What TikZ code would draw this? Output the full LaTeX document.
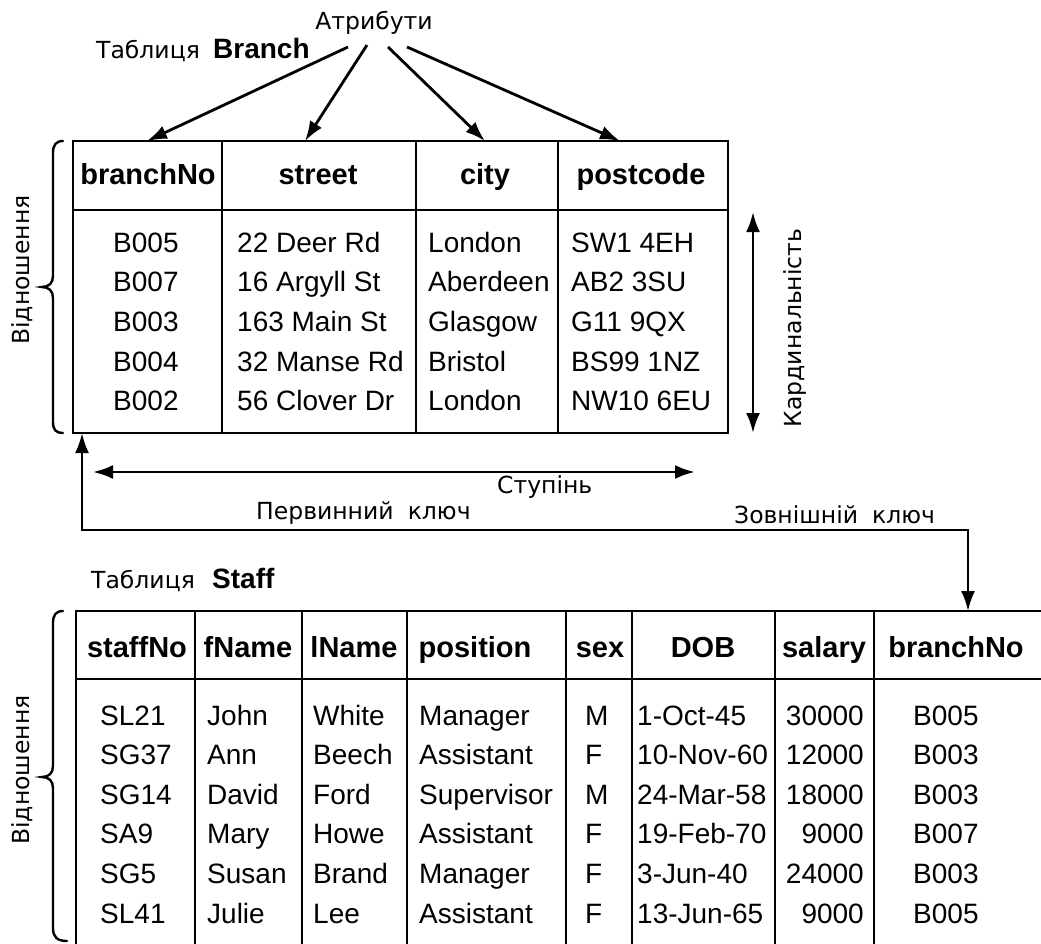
\documentclass[tikz,border=0pt]{standalone}
\usepackage{fontspec}
\setmainfont{Liberation Sans}
\newfontfamily\lbl{DejaVu Sans}
\usetikzlibrary{arrows.meta}

\begin{document}
\begin{tikzpicture}[x=1pt,y=-1pt,
  grid/.style={line width=2.8pt, line cap=rect},
  arr/.style={line width=2.8pt, -{Latex[length=20pt,width=14pt]}},
  dbl/.style={line width=2.8pt, {Latex[length=20pt,width=14pt]}-{Latex[length=20pt,width=14pt]}},
  hd/.style={inner sep=0pt, anchor=base, font=\fontsize{29}{34}\selectfont\bfseries},
  cell/.style={inner sep=0pt, anchor=base west, font=\fontsize{28}{33}\selectfont},
  cellr/.style={cell, anchor=base east},
  lab/.style={inner sep=0pt, anchor=base west, font=\lbl\fontsize{23.5}{28}\selectfont},
  lbold/.style={inner sep=0pt, anchor=base west, font=\fontsize{28}{32}\selectfont\bfseries},
  vlab/.style={inner sep=0pt, rotate=90, font=\lbl\fontsize{23.5}{28}\selectfont},
  brace/.style={line width=2.4pt, line cap=round},
]
\useasboundingbox (0,0) rectangle (1041,944);

% ---------- Branch table ----------
\draw[grid] (73,141) rectangle (728,433);
\draw[grid] (73,210) -- (728,210);
\foreach \x in {222,416,558} \draw[grid] (\x,141) -- (\x,433);

\node[hd] (bh1) at (148,185) {branchNo};
\node[hd] (bh2) at (318,185) {street};
\node[hd] (bh3) at (485,185) {city};
\node[hd] (bh4) at (641,185) {postcode};

\foreach \a/\b/\c/\d [count=\i from 0] in {
  B005/22 Deer Rd/London/SW1 4EH,
  B007/16 Argyll St/Aberdeen/AB2 3SU,
  B003/163 Main St/Glasgow/G11 9QX,
  B004/32 Manse Rd/Bristol/BS99 1NZ,
  B002/56 Clover Dr/London/NW10 6EU}{
  \node[cell] (ba\i) at (113,252+39.7*\i) {\a};
  \node[cell] (bb\i) at (237,252+39.7*\i) {\b};
  \node[cell] (bc\i) at (428,252+39.7*\i) {\c};
  \node[cell] (bd\i) at (571,252+39.7*\i) {\d};
}

% ---------- titles and attribute arrows ----------
\node[lab] (tbr) at (96,59) {Таблиця};
\node[lbold] (tbrn) at (213,59) {Branch};
\node[lab, anchor=base] (attr) at (374,30) {Атрибути};

\coordinate (s1) at (348,47);
\coordinate (s2) at (367,45);
\coordinate (s3) at (388,47);
\coordinate (s4) at (407,47);
\coordinate (t1) at (147,141);
\coordinate (t2) at (305,141);
\coordinate (t3) at (485,141);
\coordinate (t4) at (620,141);
\foreach \k in {1,2,3,4} \draw[arr] (s\k) -- (t\k);

% ---------- cardinality and degree ----------
\coordinate (ctop) at (753,212);
\coordinate (cbot) at (753,433);
\draw[dbl] (ctop) -- (cbot);
\node[vlab] (card) at (795,328) {Кардинальність};

\coordinate (dl) at (93,472);
\coordinate (dr) at (695,472);
\draw[dbl] (dl) -- (dr);
\node[lab] (deg) at (497,493) {Ступінь};

% ---------- primary / foreign key link ----------
\coordinate (pk) at (82,433);
\coordinate (pkc) at (82,530);
\coordinate (fkc) at (968,530);
\coordinate (fk) at (968,611);
\draw[dbl, line width=2.5pt] (pk) -- (pkc) -- (fkc) -- (fk);
\node[lab] (pkl) at (256,519) {Первинний\hspace{0.6em}ключ};
\node[lab] (fkl) at (734,523) {Зовнішній\hspace{0.6em}ключ};

% ---------- relation braces ----------
\draw[brace] (63,141) .. controls (56,141) and (53,145) .. (53,153) -- (53,276)
  .. controls (53,283) and (49,287) .. (42,287)
  .. controls (49,287) and (53,291) .. (53,298) -- (53,422)
  .. controls (53,430) and (56,433) .. (63,433);
\node[vlab] (rel1) at (22,270) {Відношення};

\draw[brace] (63,611) .. controls (56,611) and (53,615) .. (53,623) -- (53,766)
  .. controls (53,773) and (49,777) .. (42,777)
  .. controls (49,777) and (53,781) .. (53,788) -- (53,928)
  .. controls (53,937) and (57,941) .. (67,941);
\node[vlab] (rel2) at (22,770) {Відношення};

% ---------- Staff table ----------
\node[lab] (tst) at (91,588) {Таблиця};
\node[lbold] (tstn) at (212,588) {Staff};

\draw[grid] (76,611) -- (1050,611);
\draw[grid] (76,679) -- (1050,679);
\foreach \x in {76,195,302,407,566,632,775,874} \draw[grid] (\x,611) -- (\x,950);

\node[hd] (sh1) at (137,657) {staffNo};
\node[hd] (sh2) at (248,657) {fName};
\node[hd] (sh3) at (354,657) {lName};
\node[hd] (sh4) at (475,657) {position};
\node[hd] (sh5) at (600,657) {sex};
\node[hd] (sh6) at (703,657) {DOB};
\node[hd] (sh7) at (824,657) {salary};
\node[hd] (sh8) at (956,657) {branchNo};

\foreach \a/\b/\c/\d/\e/\f/\g/\h [count=\i from 0] in {
  SL21/John/White/Manager/M/1-Oct-45/30000/B005,
  SG37/Ann/Beech/Assistant/F/10-Nov-60/12000/B003,
  SG14/David/Ford/Supervisor/M/24-Mar-58/18000/B003,
  SA9/Mary/Howe/Assistant/F/19-Feb-70/9000/B007,
  SG5/Susan/Brand/Manager/F/3-Jun-40/24000/B003,
  SL41/Julie/Lee/Assistant/F/13-Jun-65/9000/B005}{
  \node[cell] (sa\i) at (100,725+39.6*\i) {\a};
  \node[cell] (sb\i) at (207,725+39.6*\i) {\b};
  \node[cell] (sc\i) at (313,725+39.6*\i) {\c};
  \node[cell] (sd\i) at (419,725+39.6*\i) {\d};
  \node[cell] (se\i) at (585,725+39.6*\i) {\e};
  \node[cell] (sf\i) at (637,725+39.6*\i) {\f};
  \node[cellr] (sg\i) at (864,725+39.6*\i) {\g};
  \node[cell] (sh\i) at (913,725+39.6*\i) {\h};
}
\end{tikzpicture}
\end{document}
